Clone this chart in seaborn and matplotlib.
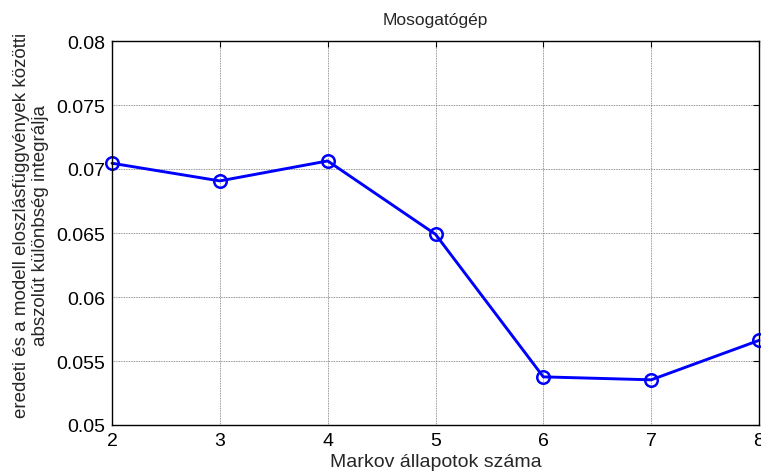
import matplotlib
matplotlib.use("Agg")
import matplotlib.pyplot as plt
import seaborn as sns
import pandas as pd

states = [2, 3, 4, 5, 6, 7, 8]
values = [0.07045, 0.06907, 0.07063, 0.06490, 0.05376, 0.05353, 0.05661]
yticks = [0.05, 0.055, 0.06, 0.065, 0.07, 0.075, 0.08]
ytick_labels = ["0.05", "0.055", "0.06", "0.065", "0.07", "0.075", "0.08"]
title = "Mosogatógép"
xlabel = "Markov állapotok száma"
ylabel = "eredeti és a modell eloszlásfüggvények közötti\nabszolút különbség integrálja"

sns.set_style("white")
plt.rcParams["font.family"] = ["Liberation Sans", "DejaVu Sans"]

df = pd.DataFrame({"x": states, "y": values})

fig = plt.figure(figsize=(7.61, 4.77), dpi=100)
ax = fig.add_axes([112 / 761, 1 - 426 / 477, (759 - 112) / 761, (426 - 42) / 477])

sns.lineplot(data=df, x="x", y="y", ax=ax, color="#0000ff", linewidth=2.1,
             marker="o", markersize=9, markerfacecolor="none",
             markeredgecolor="#0000ff", markeredgewidth=1.8, clip_on=False)

ax.set_xlim(2, 8)
ax.set_ylim(0.05, 0.08)
ax.set_xticks(states)
ax.set_yticks(yticks)
ax.set_yticklabels(ytick_labels)
ax.grid(True, color="0.45", linestyle=(0, (1, 1)), linewidth=0.6)
ax.set_axisbelow(True)
for s in ax.spines.values():
    s.set_color("black")
    s.set_linewidth(1.0)
ax.tick_params(direction="in", length=4, width=0.8, top=True, right=True,
               labelsize=14, colors="black", pad=5)

ax.set_title(title, fontsize=12.5, pad=12)
ax.set_xlabel(xlabel, fontsize=14, labelpad=3)
ax.set_ylabel(ylabel, fontsize=13.5, linespacing=1.2)
ax.yaxis.set_label_coords(-0.097, 0.523)

fig.savefig("out.png", dpi=100)
